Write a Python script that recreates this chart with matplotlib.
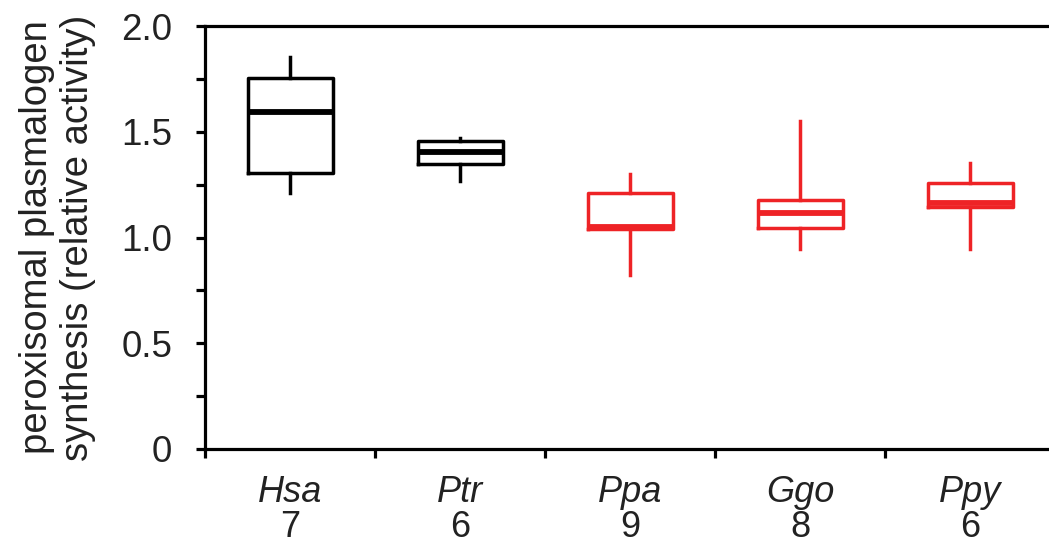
import numpy as np
import matplotlib
matplotlib.use("Agg")
import matplotlib.pyplot as plt
from matplotlib.ticker import FixedLocator

plt.rcParams['font.family'] = ['Liberation Sans', 'DejaVu Sans']

# data
species = ['Hsa', 'Ptr', 'Ppa', 'Ggo', 'Ppy']
counts = ['7', '6', '9', '8', '6']
whislo = [1.212, 1.267, 0.823, 0.946, 0.946]
q1 = [1.304, 1.346, 1.040, 1.043, 1.143]
med = [1.595, 1.406, 1.052, 1.118, 1.165]
q3 = [1.753, 1.456, 1.212, 1.177, 1.256]
whishi = [1.852, 1.472, 1.299, 1.551, 1.354]
colors = ['black', 'black', '#ee2326', '#ee2326', '#ee2326']
yticks = [0, 0.5, 1.0, 1.5, 2.0]
ytick_labels = ['0', '0.5', '1.0', '1.5', '2.0']

fig = plt.figure(figsize=(10.49, 5.47), dpi=100)
ax = fig.add_axes([205/1049, 98/547, 850/1049, 423/547])

for i in range(len(species)):
    st = dict(whislo=whislo[i], q1=q1[i], med=med[i], q3=q3[i], whishi=whishi[i], fliers=[])
    c = colors[i]
    ax.bxp([st], positions=[i], widths=0.5, showcaps=False, showfliers=False,
           boxprops=dict(color=c, linewidth=2.5),
           whiskerprops=dict(color=c, linewidth=2.5),
           medianprops=dict(color=c, linewidth=4.2, solid_capstyle='butt'),
           manage_ticks=False)

ax.set_xlim(-0.5, 4.5)
ax.set_ylim(0, 2.0)
ax.yaxis.set_major_locator(FixedLocator(yticks))
ax.yaxis.set_minor_locator(FixedLocator([0.25, 0.75, 1.25, 1.75]))
ax.set_yticklabels(ytick_labels)
ax.xaxis.set_major_locator(FixedLocator([]))
ax.xaxis.set_minor_locator(FixedLocator([-0.5, 0.5, 1.5, 2.5, 3.5]))

for s in ['top', 'left', 'bottom']:
    ax.spines[s].set_linewidth(2.3)
ax.spines['right'].set_visible(False)

ax.tick_params(axis='y', which='both', direction='out', length=6.5, width=2.3, labelsize=26.5, pad=17)
ax.tick_params(axis='x', which='both', direction='out', length=6.5, width=2.3)

for i in range(len(species)):
    ax.text(i, -0.205, species[i], ha='center', va='center',
            fontsize=26, style='italic', clip_on=False, color='#222222')
    ax.text(i, -0.372, counts[i], ha='center', va='center',
            fontsize=26, clip_on=False, color='#222222')

ax.set_ylabel('peroxisomal plasmalogen\nsynthesis (relative activity)', fontsize=27.5,
              labelpad=18, linespacing=1.2, color='#222222')
ax.tick_params(labelcolor='#222222')

fig.savefig('out.png', dpi=100)
